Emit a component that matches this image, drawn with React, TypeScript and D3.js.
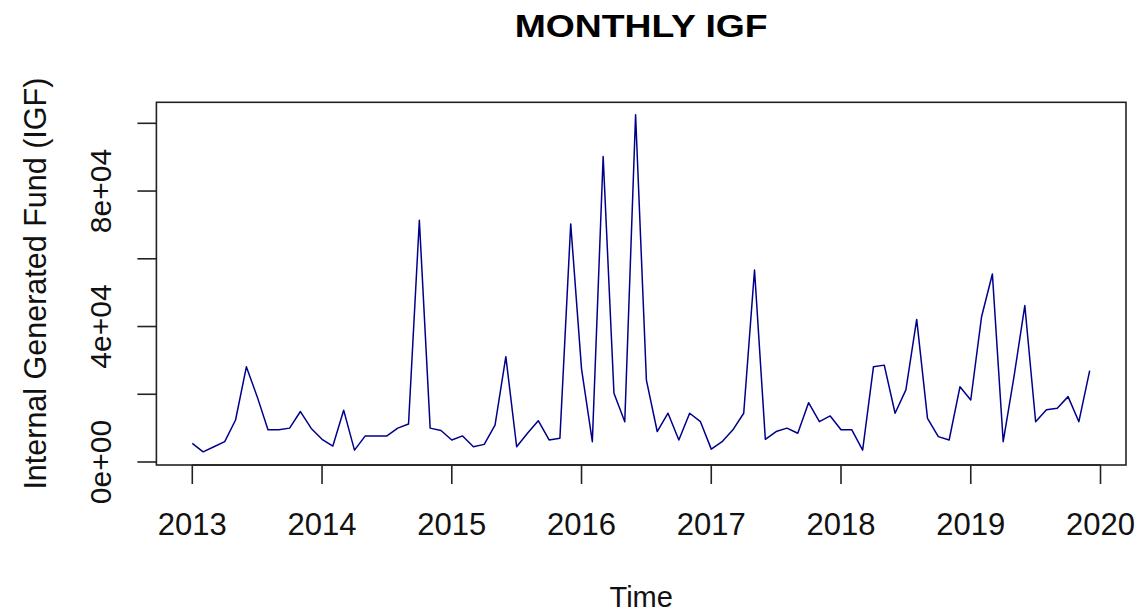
import React from 'react';
import * as d3 from 'd3';

// monthly IGF, Jan 2013 - Dec 2019
const igf2013 = [5500, 3000, 4500, 6000, 12400, 28100, 19300, 9500, 9500, 10000, 14900, 9900];
const igf2014 = [6700, 4700, 15300, 3500, 7700, 7700, 7700, 10000, 11200, 71400, 10000, 9300];
const igf2015 = [6500, 7700, 4500, 5200, 10900, 31100, 4500, 8500, 12200, 6500, 7000, 70300];
const igf2016 = [27500, 6000, 90200, 20300, 11900, 102500, 24200, 9000, 14400, 6500, 14400, 11900];
const igf2017 = [3800, 6000, 9500, 14400, 56700, 6700, 9000, 10000, 8500, 17500, 11900, 13600];
const igf2018 = [9500, 9500, 3500, 28100, 28600, 14400, 21300, 42100, 12900, 7500, 6500, 22200];
const igf2019 = [18300, 42900, 55500, 6000, 25200, 46200, 11900, 15400, 15900, 19300, 11900, 27000];

const startYear = 2013;
const yearTicks = [2013, 2014, 2015, 2016, 2017, 2018, 2019, 2020];
const valueTicks = [0, 20000, 40000, 60000, 80000, 100000];
const valueLabels = ['0e+00', '', '4e+04', '', '8e+04', ''];

const W = 1139;
const H = 614;
const box = { left: 156.4, right: 1126, top: 102.3, bottom: 465 };
const font = '"Liberation Sans", Arial, Helvetica, sans-serif';
const tickLen = 19;

export default function App() {
  const values = [...igf2013, ...igf2014, ...igf2015, ...igf2016, ...igf2017, ...igf2018, ...igf2019];
  const series = values.map((v, i) => ({ t: startYear + i / 12, v }));

  const x = d3.scaleLinear().domain([2013, 2020]).range([192.3, 1100.5]);
  const y = d3.scaleLinear().domain([0, 100000]).range([462, 123.3]);

  const line = d3.line<{ t: number; v: number }>()
    .x(d => x(d.t))
    .y(d => y(d.v));

  const midX = (box.left + box.right) / 2;
  const midY = (box.top + box.bottom) / 2;

  return (
    <svg width={W} height={H} style={{ position: 'absolute', left: 0, top: 0, background: '#fff' }}
      fontFamily={font}>
      {/* title */}
      <text x={midX} y={37} textAnchor="middle" fontSize={31} fontWeight="bold"
        textLength={253} lengthAdjust="spacingAndGlyphs" fill="#000">MONTHLY IGF</text>

      {/* series */}
      <path d={line(series) || ''} fill="none" stroke="#00008B" strokeWidth={1.5} strokeLinejoin="round" />

      {/* box */}
      <rect x={box.left} y={box.top} width={box.right - box.left} height={box.bottom - box.top}
        fill="none" stroke="#222" strokeWidth={1.6} />

      {/* x axis */}
      <line x1={x(yearTicks[0])} x2={x(yearTicks[yearTicks.length - 1])} y1={box.bottom} y2={box.bottom}
        stroke="#222" strokeWidth={1.6} />
      {yearTicks.map(t => (
        <g key={t}>
          <line x1={x(t)} x2={x(t)} y1={box.bottom} y2={box.bottom + tickLen} stroke="#222" strokeWidth={1.6} />
          <text x={x(t)} y={535} textAnchor="middle" fontSize={31} fill="#111">{t}</text>
        </g>
      ))}

      {/* y axis */}
      {valueTicks.map((v, i) => (
        <g key={v}>
          <line x1={box.left - tickLen} x2={box.left} y1={y(v)} y2={y(v)} stroke="#222" strokeWidth={1.6} />
          {valueLabels[i] && (
            <text transform={`translate(110.5,${y(v)}) rotate(-90)`} textAnchor="middle" fontSize={30}
              fill="#111">{valueLabels[i]}</text>
          )}
        </g>
      ))}

      {/* axis titles */}
      <text x={midX} y={607} textAnchor="middle" fontSize={29} fill="#111">Time</text>
      <text transform={`translate(45.5,${midY}) rotate(-90)`} textAnchor="middle" fontSize={30.5}
        fill="#111">Internal Generated Fund (IGF)</text>
    </svg>
  );
}
